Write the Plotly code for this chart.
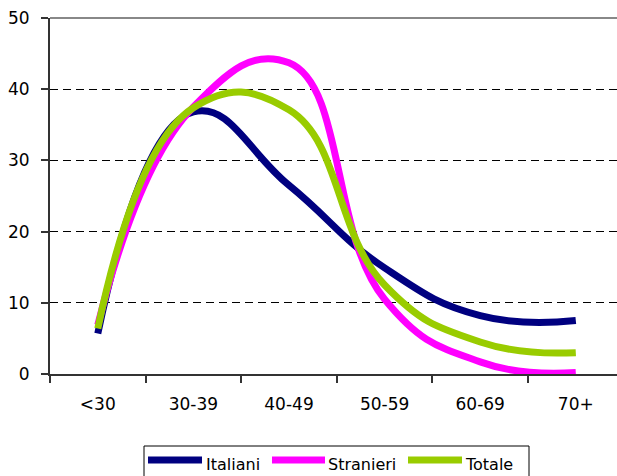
import plotly.graph_objects as go

# Age classes and percentage shares per group
age_classes = ["<30", "30-39", "40-49", "50-59", "60-69", "70+"]
italiani = [5.7, 36.8, 26.5, 14.9, 8.2, 7.5]
stranieri = [6.9, 37.5, 43.7, 10.5, 1.7, 0.2]
totale = [6.4, 37.4, 37.1, 12.5, 4.5, 3.0]

series_names = ["Italiani", "Stranieri", "Totale"]
series_values = [italiani, stranieri, totale]
series_colors = ["#000080", "#FF00FF", "#99CC00"]

W, H = 617, 476
L, T, B = 50, 18, 102
plot_w = W - L
plot_h = H - T - B
cat_w = 95.6  # pixel width of one category slot

FONT = "DejaVu Sans"

fig = go.Figure()
for name, vals, col in zip(series_names, series_values, series_colors):
    fig.add_trace(go.Scatter(
        x=age_classes, y=vals, name=name, mode="lines",
        line=dict(color=col, width=7, shape="spline", smoothing=1.3),
        showlegend=False,
    ))

x_end = -0.5 + plot_w / cat_w

fig.update_layout(
    width=W, height=H,
    margin=dict(l=L, r=0, t=T, b=B),
    paper_bgcolor="white", plot_bgcolor="white",
    font=dict(family=FONT, size=17, color="black"),
    xaxis=dict(
        type="category", range=[-0.5, x_end], tickson="boundaries",
        showline=True, linecolor="#333333", linewidth=2,
        ticks="outside", ticklen=7, tickcolor="#333333", tickwidth=1.5,
        showgrid=False, zeroline=False, ticklabelstandoff=14,
        tickfont=dict(family=FONT, size=17, color="black"),
    ),
    yaxis=dict(
        range=[0, 50], tickvals=[0, 10, 20, 30, 40, 50],
        showline=True, linecolor="#333333", linewidth=2,
        ticks="outside", ticklen=7, tickcolor="#333333", tickwidth=1.5,
        showgrid=True, gridcolor="black", gridwidth=1, griddash="8px,5px",
        zeroline=False, ticklabelstandoff=8,
        tickfont=dict(family=FONT, size=17, color="black"),
    ),
)

# Upper frame line of the plot area
fig.add_shape(type="line", xref="paper", yref="paper", x0=0, x1=1, y0=1, y1=1,
              line=dict(color="#888888", width=2), layer="above")


def px_x(px):
    return (px - L) / plot_w


def px_y(py):
    return (H - B - py) / plot_h


# Legend box, running off the lower edge of the page
fig.add_shape(type="rect", xref="paper", yref="paper",
              x0=px_x(144), x1=px_x(529), y0=px_y(446), y1=px_y(500),
              line=dict(color="black", width=1), fillcolor="white", layer="above")

legend_items = [(148, 202, 204), (272, 325, 326), (408, 462, 463)]
for (sx0, sx1, tx), name, col in zip(legend_items, series_names, series_colors):
    fig.add_shape(type="line", xref="paper", yref="paper",
                  x0=px_x(sx0), x1=px_x(sx1), y0=px_y(460), y1=px_y(460),
                  line=dict(color=col, width=7), layer="above")
    fig.add_annotation(xref="paper", yref="paper", x=px_x(tx), y=px_y(464),
                       xanchor="left", yanchor="middle", showarrow=False,
                       text=name, font=dict(family=FONT, size=16, color="black"))

fig.write_html("out.html")
